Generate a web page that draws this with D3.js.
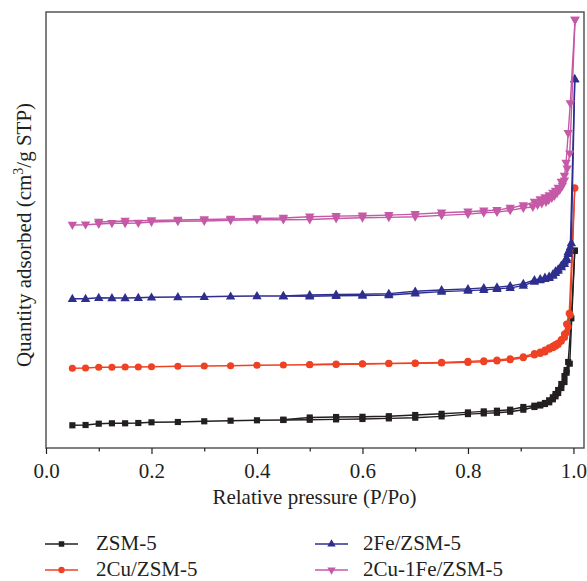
<!DOCTYPE html>
<html>
<head>
<meta charset="utf-8">
<script src="https://cdn.jsdelivr.net/npm/d3@7/dist/d3.min.js"></script>
<style>
  html, body { margin: 0; padding: 0; background: #fff; }
  svg { display: block; }
  svg text { font-family: "Liberation Serif", Tinos, "Times New Roman", Times, "DejaVu Serif", serif !important; fill: #231f20; }
</style>
</head>
<body>
<svg id="chart" width="587" height="581"></svg>
<script>
// ---- Data (relative pressure P/Po, quantity adsorbed in arbitrary units) ----
const seriesNames = ["ZSM-5", "2Cu/ZSM-5", "2Fe/ZSM-5", "2Cu-1Fe/ZSM-5"];

const zsmAds = [[0.05,22.7],[0.075,23],[0.1,24.3],[0.125,24.7],[0.15,24.7],[0.175,25],[0.2,25.7],[0.25,26],[0.3,26.7],[0.35,27.3],[0.4,27.7],[0.45,28],[0.5,28.2],[0.55,28.6],[0.6,29],[0.65,29.6],[0.7,30.3],[0.75,31.6],[0.8,33.9],[0.83,34.6],[0.855,35.2],[0.88,36.3],[0.905,38.3],[0.926,41],[0.937,42.5],[0.946,44],[0.954,45.7],[0.961,48.7],[0.966,51.7],[0.971,55],[0.977,60],[0.983,66],[0.987,75.3],[0.993,84.3],[1.0025,197.3]];
const zsmDes = [[1.0025,197.3],[0.996,129.7],[0.99,86],[0.987,78],[0.983,72],[0.977,64],[0.971,58],[0.966,54],[0.961,50.7],[0.954,47.7],[0.946,45],[0.937,43.3],[0.926,42.3],[0.905,41],[0.88,38.3],[0.855,37.3],[0.83,36.6],[0.8,35.6],[0.75,34.2],[0.7,33],[0.65,31.8],[0.6,31.2],[0.55,31],[0.5,30.5],[0.45,28.3]];

const cuAds = [[0.05,79.7],[0.075,80],[0.1,80.7],[0.125,80.7],[0.15,81],[0.175,81],[0.2,81.3],[0.25,81.7],[0.3,82],[0.35,82.3],[0.4,82.7],[0.45,83],[0.5,83.2],[0.55,83.5],[0.6,84],[0.65,84.4],[0.7,84.6],[0.75,85],[0.8,85.6],[0.83,86.3],[0.855,87],[0.88,88.3],[0.905,90.3],[0.926,93],[0.937,94.6],[0.946,96],[0.954,98.7],[0.961,100.3],[0.966,101.7],[0.971,103.4],[0.977,106.7],[0.983,110.4],[0.987,115.4],[0.99,121.2],[0.994,132.9],[1.0025,260]];
const cuDes = [[1.0025,260],[0.992,134.7],[0.987,124],[0.983,114],[0.977,108.5],[0.971,105],[0.966,103.5],[0.961,102],[0.954,100.3],[0.946,98],[0.937,96],[0.926,94.5],[0.905,91.3],[0.88,89.3],[0.855,88],[0.83,87.3],[0.8,86.6],[0.75,85.6],[0.7,85],[0.65,84.6],[0.6,84.2],[0.55,84],[0.5,83.5]];

const feAds = [[0.05,149.3],[0.075,149.3],[0.1,150.3],[0.125,150],[0.15,150],[0.175,150.3],[0.2,150.7],[0.25,151],[0.3,151.3],[0.35,151.7],[0.4,152],[0.45,152],[0.5,151.7],[0.55,152.3],[0.6,152.4],[0.65,153],[0.7,154.7],[0.75,156.4],[0.8,157.4],[0.83,158.1],[0.855,159.1],[0.88,160.1],[0.905,162.4],[0.926,166.5],[0.937,168],[0.946,169.1],[0.954,170.1],[0.961,172.5],[0.966,175.2],[0.971,177.5],[0.977,180.9],[0.983,184.2],[0.987,188.3],[0.99,194.3],[0.992,197.7],[0.994,201],[1.0025,369]];
const feDes = [[1.0025,369],[0.996,205],[0.99,196],[0.987,190],[0.983,186.6],[0.977,182.6],[0.971,178.9],[0.966,176.9],[0.961,173.8],[0.954,171.5],[0.946,170.5],[0.937,169],[0.926,168],[0.905,164.4],[0.88,162.1],[0.855,160.8],[0.83,160.1],[0.8,159.1],[0.75,158],[0.7,156.7],[0.65,154.4],[0.6,153.7],[0.55,153.5],[0.5,153],[0.45,152]];

const cufeAds = [[0.05,223],[0.075,223.3],[0.1,224],[0.125,224.7],[0.15,224.7],[0.175,225],[0.2,226],[0.25,226.7],[0.3,227],[0.35,227.7],[0.4,228.3],[0.45,228.3],[0.5,228.5],[0.55,229.5],[0.6,230.2],[0.65,230.6],[0.7,231.2],[0.75,232.6],[0.8,233.9],[0.83,235.2],[0.855,235.9],[0.88,237.6],[0.905,240],[0.923,241],[0.932,243],[0.94,244.5],[0.948,246],[0.953,248],[0.959,250],[0.964,252],[0.969,255],[0.974,258],[0.979,262],[0.983,267.3],[0.988,279.2],[0.993,294.4],[1.003,428]];
const cufeDes = [[1.003,428],[0.994,344.5],[0.99,314.7],[0.986,285],[0.983,272],[0.977,266],[0.971,260],[0.966,257],[0.961,255],[0.954,252.5],[0.946,250.5],[0.937,248.5],[0.926,246],[0.905,242.6],[0.88,240],[0.855,237.9],[0.83,237.3],[0.8,236.3],[0.75,235.2],[0.7,233.9],[0.65,232.9],[0.6,232.2],[0.55,231.9],[0.5,231.2],[0.45,230],[0.4,229.5],[0.35,229],[0.3,228.5],[0.25,228],[0.2,227.5],[0.15,227],[0.1,226]];

const xMajorTicks = [0, 0.2, 0.4, 0.6, 0.8, 1.0];
const xMinorTicks = [0.1, 0.3, 0.5, 0.7, 0.9];
const xTitle = "Relative pressure (P/Po)";

// ---- Styles ----
const FONT = '"Liberation Serif", Tinos, "Times New Roman", Times, "DejaVu Serif", serif';
const FS = 21;
const colors = ["#231f20", "#ef4123", "#2e2e8f", "#c559a7"];
const symbols = [d3.symbolSquare, d3.symbolCircle, d3.symbolTriangle, d3.symbolTriangle];
const symbolSizes = [38, 40, 38, 38];
const rotations = [0, 0, 0, 180];
const seriesData = [[zsmAds, zsmDes], [cuAds, cuDes], [feAds, feDes], [cufeAds, cufeDes]];

// ---- Layout ----
const svg = d3.select("#chart").attr("font-family", FONT);
const L = 46, R = 584, T = 12, B = 448;
const x = d3.scaleLinear().domain([0, 1.02]).range([L, R]);
const y = d3.scaleLinear().domain([0, 436]).range([B, T]);

// frame
svg.append("rect").attr("x", L).attr("y", T).attr("width", R - L).attr("height", B - T)
  .attr("fill", "none").attr("stroke", "#4a4a4a").attr("stroke-width", 1.4);

// x axis
const xAxis = svg.append("g").attr("transform", `translate(0,${B})`)
  .call(d3.axisBottom(x).tickValues(xMajorTicks).tickFormat(d3.format(".1f")).tickSize(6).tickPadding(9));
xAxis.attr("font-family", FONT).attr("font-size", FS);
xAxis.select(".domain").remove();
xAxis.selectAll(".tick line").attr("stroke", "#231f20").attr("stroke-width", 1.2);
xAxis.selectAll(".tick text").style("font-family", FONT).attr("font-size", FS).attr("fill", "#231f20");
const xMinor = svg.append("g").attr("transform", `translate(0,${B})`)
  .call(d3.axisBottom(x).tickValues(xMinorTicks).tickFormat("").tickSize(3.5));
xMinor.select(".domain").remove();
xMinor.selectAll(".tick line").attr("stroke", "#231f20").attr("stroke-width", 1.2);

svg.append("text").attr("x", (L + 573) / 2 + 5).attr("y", 504).attr("text-anchor", "middle")
  .style("font-family", FONT).attr("font-size", FS).text(xTitle);

const yl = svg.append("text").attr("transform", "translate(31,235) rotate(-90)")
  .attr("text-anchor", "middle").style("font-family", FONT).attr("font-size", FS);
yl.append("tspan").text("Quantity adsorbed (cm");
yl.append("tspan").attr("dy", -8).attr("font-size", 14).text("3");
yl.append("tspan").attr("dy", 8).text("/g STP)");

// series
const line = d3.line().x(d => x(d[0])).y(d => y(d[1]));
seriesData.forEach((branches, i) => {
  const g = svg.append("g");
  branches.forEach(br => {
    g.append("path").attr("d", line(br)).attr("fill", "none")
      .attr("stroke", colors[i]).attr("stroke-width", 1.4).attr("stroke-linejoin", "round");
  });
  const sym = d3.symbol().type(symbols[i]).size(symbolSizes[i]);
  branches.forEach(br => {
    g.selectAll(null).data(br).enter().append("path")
      .attr("d", sym)
      .attr("transform", d => `translate(${x(d[0])},${y(d[1]) + (i === 2 ? 0.5 : i === 3 ? -0.5 : 0)}) rotate(${rotations[i]})`)
      .attr("fill", colors[i]);
  });
});

// legend
const legendPos = [[45, 544, 96], [45, 570, 96], [315, 544, 363], [315, 570, 363]];
seriesNames.forEach((name, i) => {
  const [lx, ly, tx] = legendPos[i];
  const g = svg.append("g");
  g.append("line").attr("x1", lx).attr("x2", lx + 33).attr("y1", ly).attr("y2", ly)
    .attr("stroke", colors[i]).attr("stroke-width", 1.4);
  g.append("path").attr("d", d3.symbol().type(symbols[i]).size(symbolSizes[i] * 0.8))
    .attr("transform", `translate(${lx + 16.5},${ly}) rotate(${rotations[i]})`).attr("fill", colors[i]);
  g.append("text").attr("x", tx).attr("y", ly).attr("dy", "0.3em")
    .style("font-family", FONT).attr("font-size", FS).text(name);
});
</script>
</body>
</html>
